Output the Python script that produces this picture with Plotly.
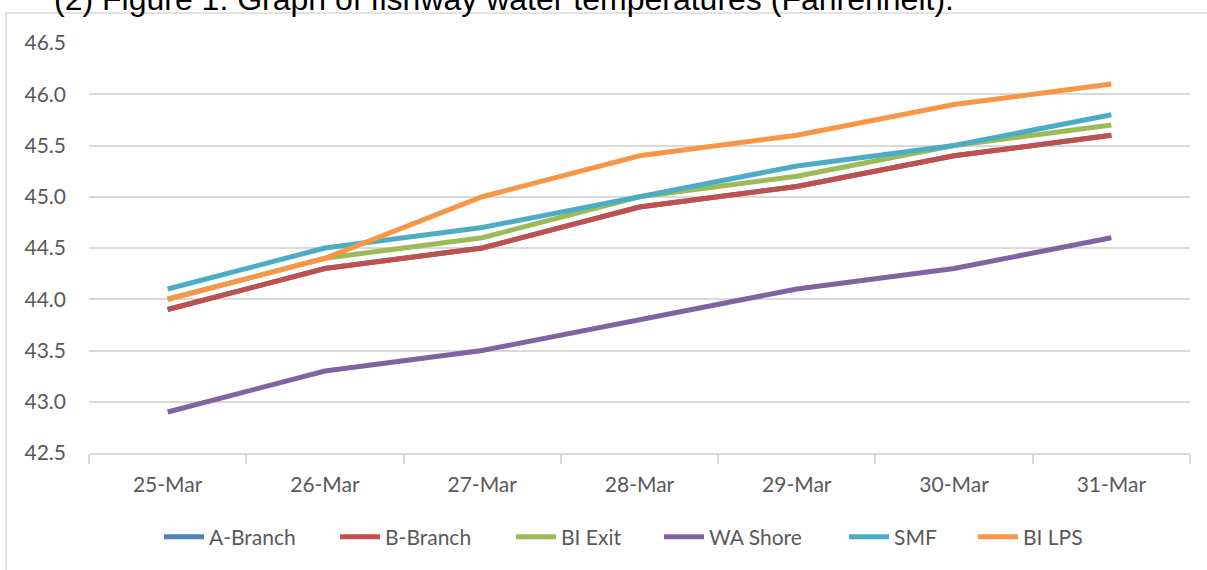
import plotly.graph_objects as go

dates = ["25-Mar", "26-Mar", "27-Mar", "28-Mar", "29-Mar", "30-Mar", "31-Mar"]
a_branch = [43.9, 44.3, 44.5, 44.9, 45.1, 45.4, 45.6]
b_branch = [43.9, 44.3, 44.5, 44.9, 45.1, 45.4, 45.6]
bi_exit = [44.0, 44.4, 44.6, 45.0, 45.2, 45.5, 45.7]
wa_shore = [42.9, 43.3, 43.5, 43.8, 44.1, 44.3, 44.6]
smf = [44.1, 44.5, 44.7, 45.0, 45.3, 45.5, 45.8]
bi_lps = [44.0, 44.4, 45.0, 45.4, 45.6, 45.9, 46.1]
y_ticks = [42.5, 43.0, 43.5, 44.0, 44.5, 45.0, 45.5, 46.0, 46.5]

series = [
    ("A-Branch", a_branch, "#4F81BD", 121),
    ("B-Branch", b_branch, "#C0504D", 121),
    ("BI Exit", bi_exit, "#9BBB59", 93),
    ("WA Shore", wa_shore, "#8064A2", 130),
    ("SMF", smf, "#4BACC6", 74),
    ("BI LPS", bi_lps, "#F79646", 65),
]

FONT = "Lato, Open Sans, sans-serif"

fig = go.Figure()
for name, vals, col, lw in series:
    fig.add_trace(go.Scatter(x=dates, y=vals, name=name, mode="lines",
                             line=dict(color=col, width=5), legendwidth=lw))

fig.update_layout(
    width=1207, height=570,
    margin=dict(l=89, r=17, t=43, b=117, autoexpand=False),
    paper_bgcolor="white", plot_bgcolor="white",
    font=dict(family=FONT, size=21, color="#595959"),
    showlegend=True,
    legend=dict(orientation="h", x=(159 - 89) / 1101, xanchor="left",
                y=-0.155, yanchor="top",
                font=dict(size=21, color="#595959"), itemwidth=40, traceorder="normal"),
    xaxis=dict(type="category", showgrid=False, showline=True, linecolor="#d9d9d9",
               linewidth=1.5, ticks="outside", tickson="boundaries", ticklen=9,
               tickcolor="#d9d9d9", tickwidth=1.5, range=[-0.5, 6.5],
               ticklabelstandoff=12, tickfont=dict(size=21, color="#595959")),
    yaxis=dict(range=[42.5, 46.5], tickvals=y_ticks,
               ticktext=[f"{v:.1f}" for v in y_ticks], showgrid=True,
               gridcolor="#d9d9d9", gridwidth=1.5, zeroline=False, showline=False,
               ticks="", ticklabelstandoff=22, tickfont=dict(size=21, color="#595959")),
)

fig.add_shape(type="rect", xref="paper", yref="paper",
              x0=(6 - 89) / 1101, x1=1.05, y0=-0.5, y1=(453 - 13) / 410,
              line=dict(color="#d9d9d9", width=1.5), fillcolor="rgba(0,0,0,0)", layer="below")

fig.add_annotation(text="(2) Figure 1: Graph of fishway water temperatures (Fahrenheit).",
                   xref="paper", yref="paper", x=(52 - 89) / 1101, y=(453 - 19) / 410,
                   xanchor="left", yanchor="bottom", showarrow=False,
                   font=dict(family="Liberation Sans, Arial, sans-serif", size=32, color="black"))

fig.write_html("out.html", config={"displayModeBar": False},
               post_script="document.body.style.margin='0';")
